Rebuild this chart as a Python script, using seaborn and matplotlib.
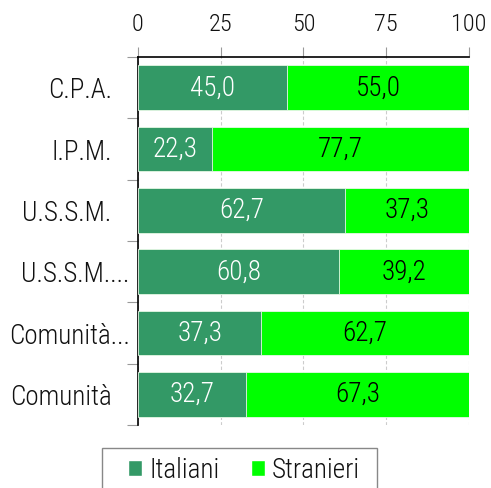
import matplotlib
matplotlib.use("Agg")
import matplotlib.pyplot as plt
import matplotlib.transforms as mtransforms
import seaborn as sns
import pandas as pd
from matplotlib.patches import Patch, Rectangle

categories = ["C.P.A.", "I.P.M.", "U.S.S.M.", "U.S.S.M....", "Comunità...", "Comunità"]
italiani = [45.0, 22.3, 62.7, 60.8, 37.3, 32.7]
stranieri = [55.0, 77.7, 37.3, 39.2, 62.7, 67.3]
x_ticks = [0, 25, 50, 75, 100]

col_it = "#339966"
col_st = "#00FF00"

sns.set_theme(style="white")
plt.rcParams["font.family"] = ["Roboto Condensed", "DejaVu Sans"]
plt.rcParams["font.weight"] = "light"

df = pd.DataFrame({"cat": categories, "it": italiani, "st": stranieri})
df["tot"] = df["it"] + df["st"]

fig = plt.figure(figsize=(4.91, 4.88), dpi=100)
ax = fig.add_axes([0.281, 0.129, 0.674, 0.754])

# total bar in the foreign colour, then the Italian share on top of it
sns.barplot(data=df, y="cat", x="tot", color=col_st, orient="h", width=0.73,
            saturation=1, ax=ax, edgecolor="#e8f8e8", linewidth=0.6, zorder=2)
sns.barplot(data=df, y="cat", x="it", color=col_it, orient="h", width=0.73,
            saturation=1, ax=ax, edgecolor="#e8f8e8", linewidth=0.6, zorder=3)

ax.set_xlim(0, 100)
ax.set_ylim(len(categories) - 0.5, -0.5)
ax.set_xlabel("")
ax.set_ylabel("")
ax.xaxis.tick_top()
ax.set_xticks(x_ticks)
ax.set_xticklabels([str(t) for t in x_ticks])
ax.tick_params(axis="x", which="major", length=7, color="#999999", width=0.8,
               labelsize=17.5, pad=8.5, labelcolor="#111111", top=True, bottom=False)

ax.set_yticks(range(len(categories)))
ax.set_yticklabels(categories)
ax.set_yticks([i + 0.5 for i in range(-1, len(categories))], minor=True)
ax.tick_params(axis="y", which="major", length=0, labelsize=19.5, pad=6,
               labelcolor="#111111", left=True)
ax.tick_params(axis="y", which="minor", length=8, color="#999999", width=0.8, left=True)

# labels without an ellipsis sit a little further from the axis
for lab in ax.get_yticklabels():
    if not lab.get_text().endswith("..."):
        lab.set_transform(lab.get_transform() +
                          mtransforms.ScaledTranslation(-18 / 100, 0, fig.dpi_scale_trans))

ax.grid(axis="x", color="#cccccc", linestyle=(0, (3, 2)), linewidth=0.8, zorder=0)
ax.set_axisbelow(True)

for s in ["right", "bottom"]:
    ax.spines[s].set_visible(False)
for s in ["top", "left"]:
    ax.spines[s].set_color("black")
    ax.spines[s].set_linewidth(1.2)

for i, (a, b) in enumerate(zip(italiani, stranieri)):
    ax.text(a / 2, i, f"{a:.1f}".replace(".", ","), ha="center", va="center",
            fontsize=19.5, color="white", zorder=5)
    ax.text(a + b / 2, i, f"{b:.1f}".replace(".", ","), ha="center", va="center",
            fontsize=19.5, color="black", zorder=5)

handles = [Patch(facecolor=col_it, label="Italiani"), Patch(facecolor=col_st, label="Stranieri")]
leg = fig.legend(handles=handles, loc="center", bbox_to_anchor=(244 / 491, 0.036),
                 ncol=2, frameon=False, fontsize=19.5, handlelength=0.53, handleheight=0.53,
                 handletextpad=0.25, columnspacing=1.15, borderpad=0, borderaxespad=0)
for t in leg.get_texts():
    t.set_color("#111111")

# legend box, running past the bottom edge of the figure
fig.add_artist(Rectangle((102 / 491, -0.05), 275 / 491, 0.05 + 40 / 488,
                         transform=fig.transFigure, fill=False,
                         edgecolor="#888888", linewidth=1.0))

fig.savefig("out.png", dpi=100)
